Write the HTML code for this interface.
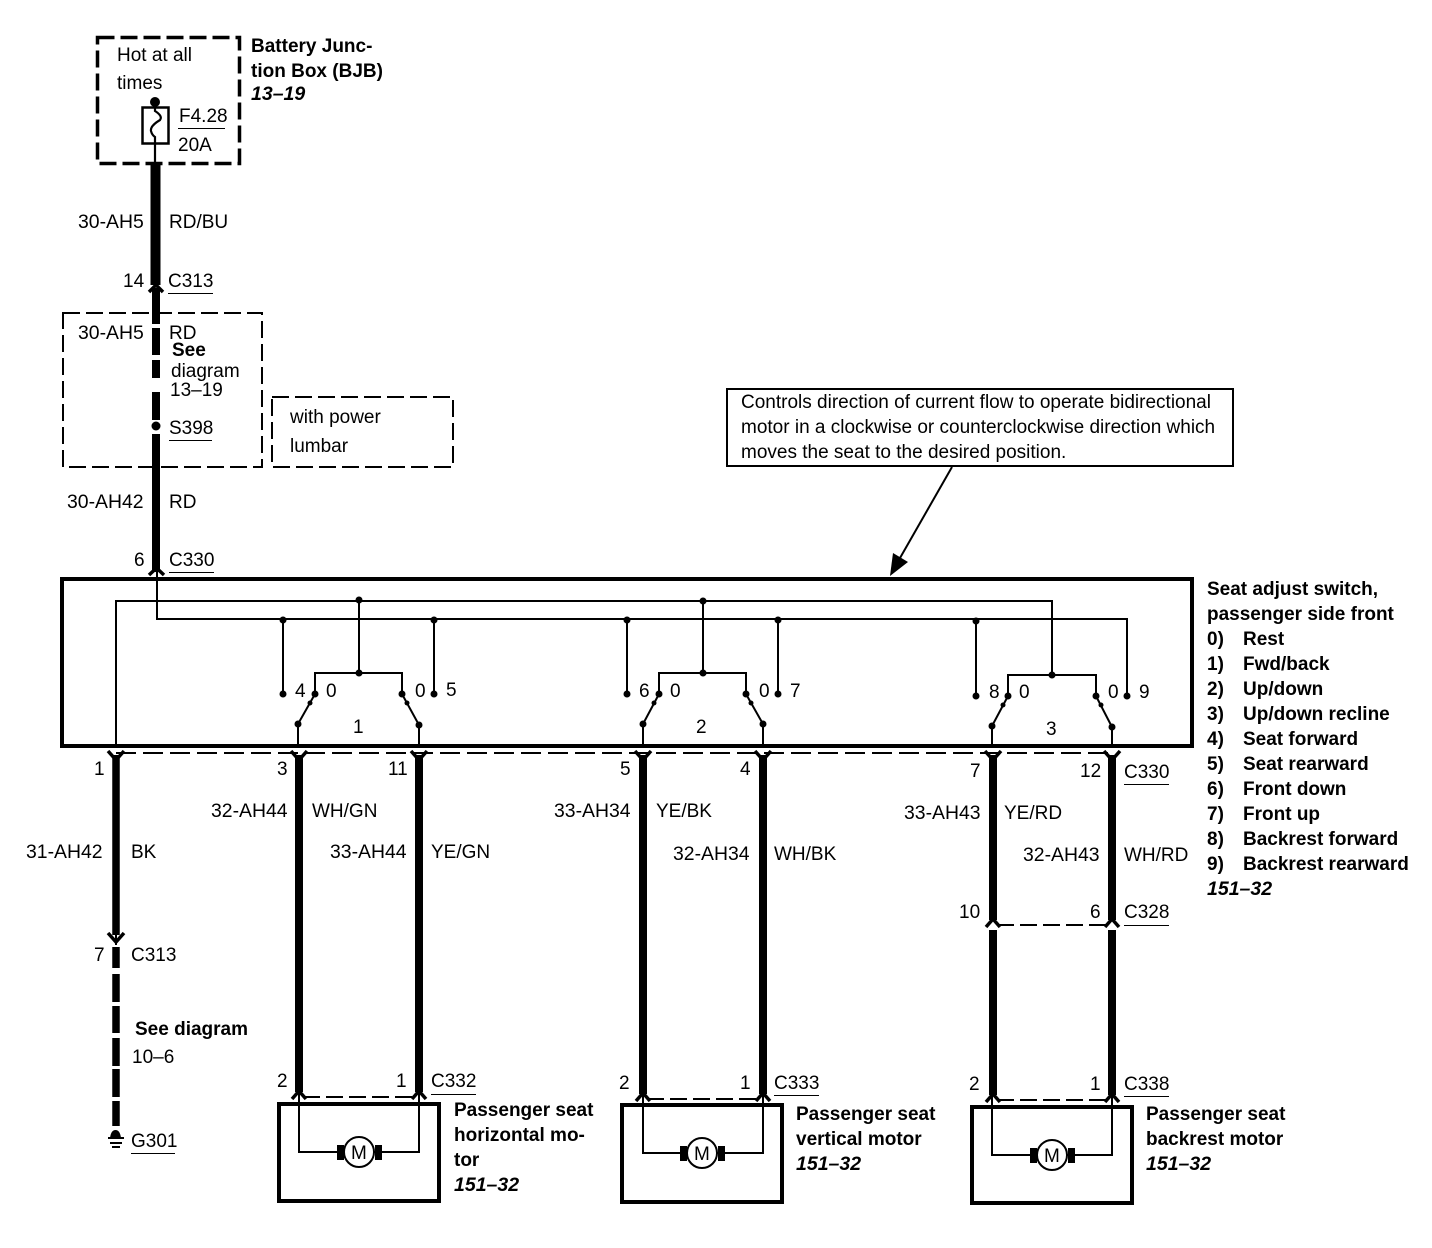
<!DOCTYPE html>
<html><head><meta charset="utf-8"><title>Seat wiring diagram</title>
<style>
html,body{margin:0;padding:0;background:#fff}
svg{display:block}
text{font-family:"Liberation Sans",sans-serif;font-size:19px;fill:#000}
.w{font-size:19.4px}
.b{font-weight:bold;font-size:19px}
.bi{font-weight:bold;font-style:italic;font-size:19.5px}
</style></head><body>
<svg width="1432" height="1248" viewBox="0 0 1432 1248" xmlns="http://www.w3.org/2000/svg">
<rect width="1432" height="1248" fill="#fff"/>
<g fill="none" stroke="#000">
<!-- dashed boxes -->
<rect x="97.5" y="37.5" width="142" height="126" stroke-width="3.5" stroke-dasharray="17 6"/>
<rect x="63" y="313" width="199" height="154" stroke-width="2" stroke-dasharray="17 6"/>
<rect x="272" y="397" width="181" height="70" stroke-width="2" stroke-dasharray="17 6"/>
<!-- fuse -->
<rect x="142.5" y="107.5" width="26" height="36" stroke-width="2.5"/>
<path d="M155 102V111Q163 116 160 120Q150 126 151 131Q152 135 155 137V164" stroke-width="2.2"/>
<!-- top power wire -->
<path d="M155.5 164V285" stroke-width="10"/>
<path d="M156 288V324M156 328V355M156 360V378M156 392V420M156 434V572" stroke-width="8"/>
<path d="M149 292L156 285L163 292M149 575L156.500 568L164 575" stroke-width="3.500"/>
<!-- callout -->
<rect x="727" y="389" width="506" height="77" stroke-width="2"/>
<path d="M952 467L896 565" stroke-width="2"/>
<!-- switch box -->
<rect x="62" y="579" width="1130" height="167" stroke-width="4"/>
<!-- inner buses -->
<g stroke-width="2">
<path d="M157 572V619H1127V696"/>
<path d="M116 746V601H1052V675"/>
<path d="M283 620V694M434 620V694M627 620V694M778 620V694M976 621V696"/>
<path d="M359 600V673M703 601V673"/>
<path d="M315 694V673H402V694"/><path d="M659 694V673H746V694"/><path d="M1008 696V675H1096V696"/>
<path d="M315 694L298 724V746M402 694L419 725V746"/>
<path d="M659 694L643 724V746M746 694L763 724V746"/>
<path d="M1008 696L992 726V746M1096 696L1112 727V746"/>
</g>
<!-- harness dashed -->
<path d="M116 753H1112" stroke-width="2" stroke-dasharray="20 7"/>
<path d="M303 1097H415M647 1099H759M997 1100H1108M997 925H1108" stroke-width="2" stroke-dasharray="17 6"/>
<!-- thick wires -->
<path d="M116 755V935M116 947V968M116 974V1002M116 1006V1033M116 1038V1066M116 1069V1097M116 1101V1126" stroke-width="7.500"/>
<path d="M299 755V1092M419 755V1092M643 755V1094M763 755V1094M993 755V920M1112 755V920M993 930V1095M1112 930V1095" stroke-width="8"/>
<path d="M116 925V945" stroke-width="2"/>
<!-- chevrons down -->
<path d="M108 751L116 760L124 751M291 751L299 760L307 751M411 751L419 760L427 751M635 751L643 760L651 751M755 751L763 760L771 751M985 751L993 760L1001 751M1104 751L1112 760L1120 751M108 933L116 942L124 933" stroke-width="3.500"/>
<!-- chevrons up -->
<path d="M292 1099L299 1091L306 1099M412 1099L419 1091L426 1099M636 1101L643 1093L650 1101M756 1101L763 1093L770 1101M986 1102L993 1094L1000 1102M1105 1102L1112 1094L1119 1102M986 927L993 919L1000 927M1105 927L1112 919L1119 927" stroke-width="3.500"/>
<!-- motor boxes -->
<rect x="279" y="1104" width="160" height="97" stroke-width="4"/>
<rect x="622" y="1105" width="160" height="97" stroke-width="4"/>
<rect x="972" y="1107" width="160" height="96" stroke-width="4"/>
<g stroke-width="2">
<path d="M299 1092V1152H419V1092"/>
<path d="M643 1094V1153H763V1094"/>
<path d="M992 1096V1155H1112V1096"/>
</g>
<g fill="#fff" stroke-width="2">
<circle cx="359" cy="1152" r="15"/><circle cx="702" cy="1153" r="15"/><circle cx="1052" cy="1155" r="15"/>
</g>
</g>
<!-- filled items -->
<g fill="#000">
<circle cx="155" cy="102" r="5"/>
<circle cx="156" cy="426" r="4.500"/>
<path d="M890 576L893 553L908 562Z"/>
<rect x="337" y="1145" width="7" height="15"/><rect x="375" y="1145" width="7" height="15"/>
<rect x="680" y="1146" width="7" height="15"/><rect x="718" y="1146" width="7" height="15"/>
<rect x="1030" y="1148" width="7" height="15"/><rect x="1068" y="1148" width="7" height="15"/>
<!-- ground -->
<path d="M110 1138Q111 1130 115.500 1130Q120 1130 121 1138Z"/>
<rect x="108" y="1137" width="16" height="2"/><rect x="110" y="1142" width="12" height="2"/><rect x="112" y="1146" width="8" height="2"/>
<!-- switch dots -->
<circle cx="359" cy="600" r="3.500"/><circle cx="283" cy="620" r="3.500"/><circle cx="434" cy="620" r="3.500"/>
<circle cx="359" cy="673" r="3.500"/><circle cx="283" cy="694" r="3.500"/><circle cx="315" cy="694" r="3.500"/>
<circle cx="402" cy="694" r="3.500"/><circle cx="434" cy="694" r="3.500"/><circle cx="298" cy="724" r="3.500"/>
<circle cx="419" cy="725" r="3.500"/><circle cx="310" cy="703" r="2.500"/><circle cx="407" cy="703" r="2.500"/>
<circle cx="703" cy="601" r="3.500"/><circle cx="627" cy="620" r="3.500"/><circle cx="778" cy="620" r="3.500"/>
<circle cx="703" cy="673" r="3.500"/><circle cx="627" cy="694" r="3.500"/><circle cx="659" cy="694" r="3.500"/>
<circle cx="746" cy="694" r="3.500"/><circle cx="778" cy="694" r="3.500"/><circle cx="643" cy="724" r="3.500"/>
<circle cx="763" cy="724" r="3.500"/><circle cx="654" cy="703" r="2.500"/><circle cx="751" cy="703" r="2.500"/>
<circle cx="976" cy="621" r="3.500"/><circle cx="1052" cy="675" r="3.500"/><circle cx="976" cy="696" r="3.500"/>
<circle cx="1008" cy="696" r="3.500"/><circle cx="1096" cy="696" r="3.500"/><circle cx="1127" cy="696" r="3.500"/>
<circle cx="992" cy="726" r="3.500"/><circle cx="1112" cy="727" r="3.500"/><circle cx="1003" cy="705" r="2.500"/><circle cx="1101" cy="705" r="2.500"/>
<!-- underlines -->
<rect x="178" y="128" width="47" height="1"/><rect x="168" y="293" width="45" height="1"/>
<rect x="169" y="440" width="43" height="1"/><rect x="169" y="572" width="45" height="1"/>
<rect x="1124" y="784" width="45" height="1"/><rect x="1124" y="925" width="45" height="1"/>
<rect x="131" y="1153" width="44" height="1"/><rect x="431" y="1094" width="45" height="1"/>
<rect x="774" y="1095" width="45" height="1"/><rect x="1124" y="1096" width="45" height="1"/>
</g>
<!-- text -->
<text x="117" y="61">Hot at all</text><text x="117" y="89">times</text>
<text x="179" y="122">F4.28</text><text x="178" y="151">20A</text>
<text class="b" x="251" y="52">Battery Junc-</text><text class="b" x="251" y="77">tion Box (BJB)</text><text class="bi" x="251" y="100">13–19</text>
<text class="w" x="78" y="228">30-AH5</text><text x="169" y="228">RD/BU</text>
<text x="123" y="287">14</text><text x="168" y="287">C313</text>
<text class="w" x="78" y="339">30-AH5</text><text x="169" y="339">RD</text>
<text class="b" x="172" y="356">See</text><text x="171" y="377">diagram</text><text x="170" y="396">13–19</text>
<text x="169" y="434">S398</text>
<text x="290" y="423">with power</text><text x="290" y="452">lumbar</text>
<text class="w" x="67" y="508">30-AH42</text><text x="169" y="508">RD</text>
<text x="134" y="566">6</text><text x="169" y="566">C330</text>
<text x="741" y="408">Controls direction of current flow to operate bidirectional</text>
<text x="741" y="433">motor in a clockwise or counterclockwise direction which</text>
<text x="741" y="458">moves the seat to the desired position.</text>
<!-- switch labels -->
<text x="295" y="697">4</text><text x="326" y="697">0</text><text x="415" y="697">0</text><text x="446" y="696">5</text><text x="353" y="733">1</text>
<text x="639" y="697">6</text><text x="670" y="697">0</text><text x="759" y="697">0</text><text x="790" y="697">7</text><text x="696" y="733">2</text>
<text x="989" y="698">8</text><text x="1019" y="698">0</text><text x="1108" y="698">0</text><text x="1139" y="698">9</text><text x="1046" y="735">3</text>
<!-- harness labels -->
<text x="94" y="775">1</text><text x="277" y="775">3</text><text x="388" y="775">11</text>
<text x="620" y="775">5</text><text x="740" y="775">4</text><text x="970" y="777">7</text><text x="1080" y="777">12</text><text x="1124" y="778">C330</text>
<text class="w" x="211" y="817">32-AH44</text><text x="312" y="817">WH/GN</text>
<text class="w" x="26" y="858">31-AH42</text><text x="131" y="858">BK</text>
<text class="w" x="330" y="858">33-AH44</text><text x="431" y="858">YE/GN</text>
<text class="w" x="554" y="817">33-AH34</text><text x="656" y="817">YE/BK</text>
<text class="w" x="673" y="860">32-AH34</text><text x="774" y="860">WH/BK</text>
<text class="w" x="904" y="819">33-AH43</text><text x="1004" y="819">YE/RD</text>
<text class="w" x="1023" y="861">32-AH43</text><text x="1124" y="861">WH/RD</text>
<text x="959" y="918">10</text><text x="1090" y="918">6</text><text x="1124" y="918">C328</text>
<!-- right list -->
<text class="b" x="1207" y="595">Seat adjust switch,</text>
<text class="b" x="1207" y="620">passenger side front</text>
<text class="b" x="1207" y="645">0)</text><text class="b" x="1243" y="645">Rest</text>
<text class="b" x="1207" y="670">1)</text><text class="b" x="1243" y="670">Fwd/back</text>
<text class="b" x="1207" y="695">2)</text><text class="b" x="1243" y="695">Up/down</text>
<text class="b" x="1207" y="720">3)</text><text class="b" x="1243" y="720">Up/down recline</text>
<text class="b" x="1207" y="745">4)</text><text class="b" x="1243" y="745">Seat forward</text>
<text class="b" x="1207" y="770">5)</text><text class="b" x="1243" y="770">Seat rearward</text>
<text class="b" x="1207" y="795">6)</text><text class="b" x="1243" y="795">Front down</text>
<text class="b" x="1207" y="820">7)</text><text class="b" x="1243" y="820">Front up</text>
<text class="b" x="1207" y="845">8)</text><text class="b" x="1243" y="845">Backrest forward</text>
<text class="b" x="1207" y="870">9)</text><text class="b" x="1243" y="870">Backrest rearward</text>
<text class="bi" x="1207" y="895">151–32</text>
<!-- lower labels -->
<text x="94" y="961">7</text><text x="131" y="961">C313</text>
<text class="b" x="135" y="1035">See diagram</text><text x="132" y="1063">10–6</text>
<text x="131" y="1147">G301</text>
<text x="277" y="1087">2</text><text x="396" y="1087">1</text><text x="431" y="1087">C332</text>
<text x="619" y="1089">2</text><text x="740" y="1089">1</text><text x="774" y="1089">C333</text>
<text x="969" y="1090">2</text><text x="1090" y="1090">1</text><text x="1124" y="1090">C338</text>
<text x="351" y="1159">M</text><text x="694" y="1160">M</text><text x="1044" y="1162">M</text>
<text class="b" x="454" y="1116">Passenger seat</text><text class="b" x="454" y="1141">horizontal mo-</text><text class="b" x="454" y="1166">tor</text><text class="bi" x="454" y="1191">151–32</text>
<text class="b" x="796" y="1120">Passenger seat</text><text class="b" x="796" y="1145">vertical motor</text><text class="bi" x="796" y="1170">151–32</text>
<text class="b" x="1146" y="1120">Passenger seat</text><text class="b" x="1146" y="1145">backrest motor</text><text class="bi" x="1146" y="1170">151–32</text>
</svg>
</body></html>
